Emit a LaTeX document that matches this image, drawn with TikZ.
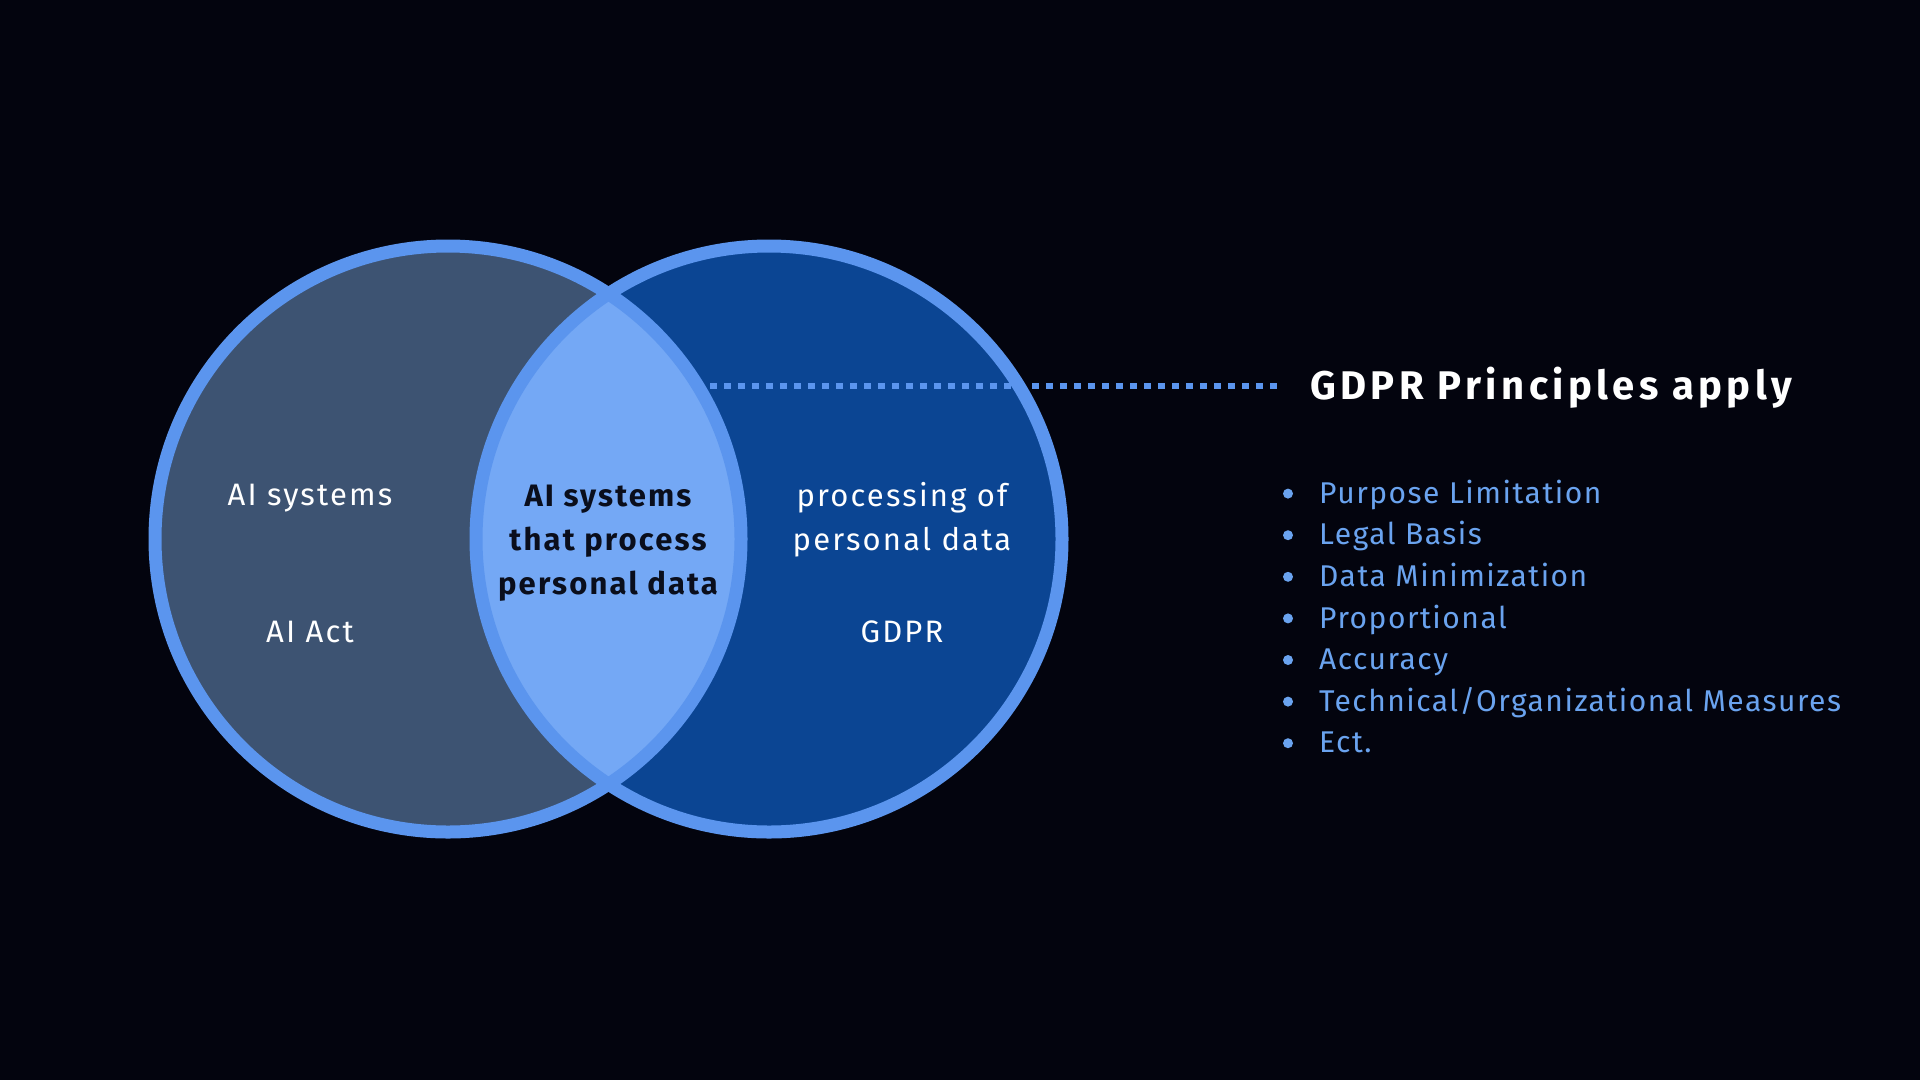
\documentclass[tikz,border=0pt]{standalone}
\usepackage{fontspec}
\setmainfont{Fira Sans}[LetterSpace=7]
\definecolor{bgcol}{HTML}{03040E}
\definecolor{aifill}{HTML}{3D5372}
\definecolor{gdprfill}{HTML}{0B4593}
\definecolor{lensfill}{HTML}{74A8F5}
\definecolor{ringcol}{HTML}{5B95EE}
\definecolor{listcol}{HTML}{6AA3EF}
\definecolor{darktext}{HTML}{0A0E1C}
\tikzset{
    ring/.style={draw=ringcol, line width=13pt},
    label/.style={text=white, font=\fontsize{31}{44}\selectfont, align=center, inner sep=0pt},
    lenslabel/.style={text=darktext, font=\bfseries\fontsize{31}{44}\selectfont, align=center, inner sep=0pt},
    dotline/.style={draw=ringcol, line width=6pt, dash pattern=on 7pt off 7pt},
    item/.style={text=listcol, font=\fontsize{30}{36}\selectfont\addfontfeatures{LetterSpace=5}, anchor=mid west, inner sep=0pt}
}
\begin{document}
\begin{tikzpicture}[x=1pt, y=-1pt]
    % Background
    \fill[bgcol] (0,0) rectangle (1920,1080);
    \useasboundingbox (0,0) rectangle (1920,1080);

    % Circle centres
    \coordinate (aic) at (448,539);
    \coordinate (gdc) at (769,539);

    % Fill the two sets and their overlap
    \fill[aifill] (aic) circle (293);
    \fill[gdprfill] (gdc) circle (293);
    \begin{scope}
        \clip (aic) circle (293);
        \fill[lensfill] (gdc) circle (293);
    \end{scope}

    % Draw the rings
    \draw[ring] (aic) circle (293);
    \draw[ring] (gdc) circle (293);

    % Labels inside the circles
    \node[label] (aisys) at (310,498) {AI systems};
    \node[label] (aiact) at (310,632) {AI Act};
    \node[lenslabel] (lens) at (608,543) {AI systems\\that process\\personal data};
    \node[label] (proc) at (902,520) {processing of\\personal data};
    \node[label] (gdpr) at (902,632) {GDPR};

    % Title with dotted leader
    \coordinate (dotstart) at (710,386);
    \node[text=white, font=\bfseries\fontsize{40}{48}\selectfont\addfontfeatures{LetterSpace=11}, anchor=west, inner sep=10pt] (title) at (1300,388) {GDPR Principles apply};
    \draw[dotline, shorten >=23pt] (dotstart) -- (title.west |- dotstart);

    % List of principles
    \foreach \txt [count=\i] in {Purpose Limitation, Legal Basis, Data Minimization, Proportional, Accuracy, Technical/Organizational Measures, Ect.} {
        \fill[listcol] (1288, 452+41.6*\i) circle (5);  % bullet
        \node[item] (p\i) at (1319, 459+41.6*\i) {\txt}; % text
    }
\end{tikzpicture}
\end{document}
